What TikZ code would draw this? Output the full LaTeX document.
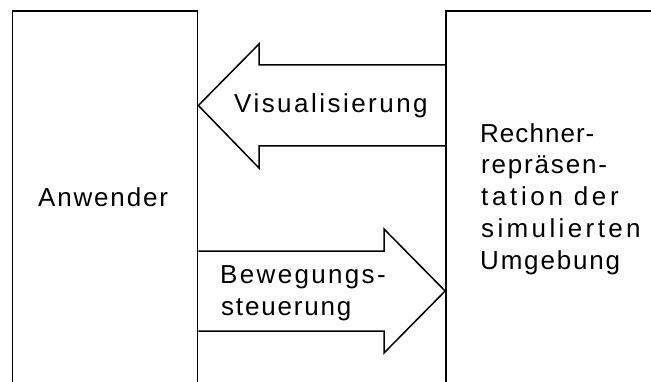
\documentclass[tikz,border=0pt]{standalone}
\usepackage{fontspec}
\setmainfont[LetterSpace=7]{Liberation Sans}
\begin{document}
\begin{tikzpicture}[x=1pt,y=1pt,
  frame/.style={draw=black,line width=1.7pt,inner sep=0pt},
  blockarrow/.style={draw=black,line width=1.5pt,line join=miter},
  label/.style={inner sep=0pt,anchor=base west,font=\fontsize{26}{30}\selectfont},
  track/.style={label,font=\fontsize{26}{30}\selectfont\addfontfeature{LetterSpace=#1}}]
  \useasboundingbox (0,0) rectangle (651,381);
  \clip (0,0) rectangle (651,381);
  % the two parties, open towards the lower and right edge
  \node[frame,minimum width=185pt,minimum height=400pt] (user) at (105,170) {};
  \node[frame,minimum width=260pt,minimum height=400pt] (model) at (576,170) {};
  % hollow arrow: display from the model to the user
  \coordinate (vtip) at (user.east |- 0,275.5);
  \draw[blockarrow] (model.west |- 0,316) -- (259,316) -- (259,337) -- (vtip)
    -- (259,213) -- (259,235) -- (model.west |- 0,235);
  % hollow arrow: motion control from the user to the model
  \coordinate (btip) at (model.west |- 0,90);
  \draw[blockarrow] (user.east |- 0,130) -- (384,130) -- (384,152) -- (btip)
    -- (384,28) -- (384,50) -- (user.east |- 0,50);
  % texts
  \node[label] (tuser) at (38,175) {Anwender};
  \node[track=9.5] (tvis) at (234,268.3) {Visualisierung};
  \node[track=9] (tmove1) at (220,98) {Bewegungs-};
  \node[label] (tmove2) at (221,66) {steuerung};
  \node[track=4] (tm1) at (480,239) {Rechner-};
  \node[label] (tm2) at (481,207.3) {repräsen-};
  \node[track=14] (tm3) at (481,175.5) {tation der};
  \node[track=13] (tm4) at (481,143.8) {simulierten};
  \node[label] (tm5) at (480,112) {Umgebung};
\end{tikzpicture}
\end{document}
